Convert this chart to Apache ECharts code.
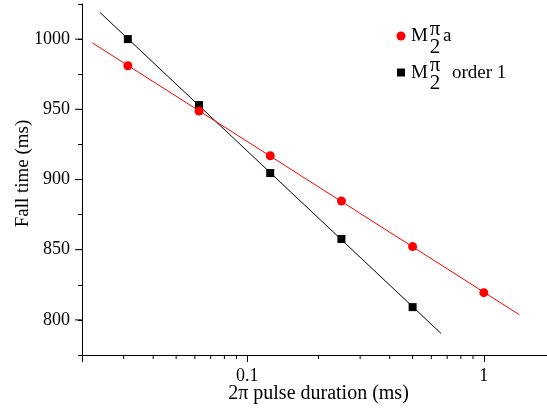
<!DOCTYPE html>
<html>
<head>
<meta charset="utf-8">
<script src="https://cdn.jsdelivr.net/npm/echarts@6/dist/echarts.min.js"></script>
<style>
  html, body { margin: 0; padding: 0; background: #fff; }
  #chart { width: 547px; height: 415px; }
</style>
</head>
<body>
<div id="chart"></div>
<script>
// Pulse durations (ms) and measured fall times (ms)
const durations = [0.03125, 0.0625, 0.125, 0.25, 0.5, 1];
const fallTimeA = [981.0, 948.8, 916.9, 884.7, 852.2, 819.4];
const fallTimeOrder1 = [1000.0, 953.0, 904.6, 857.6, 809.1];

// Range over which each straight-line fit (in log duration) is drawn
const fitRangeA = [0.0221, 1.415];
const fitRangeOrder1 = [0.0238, 0.66];

// Axis ranges and ticks
const xRange = [0.02, 2];
const yRange = [775, 1025];
const xTickLabels = [0.1, 1];
const xMinorTicks = [0.03, 0.04, 0.05, 0.06, 0.07, 0.08, 0.09, 0.2, 0.3, 0.4, 0.5, 0.6, 0.7, 0.8, 0.9];
const yMajorTicks = [800, 850, 900, 950, 1000];

const FONT = 'Liberation Serif';

// Least-squares line of y against log10(x), evaluated at the range ends
function fitLine(xs, ys, range) {
  const n = ys.length;
  const lx = xs.slice(0, n).map(v => Math.log10(v));
  const mx = lx.reduce((a, b) => a + b, 0) / n;
  const my = ys.reduce((a, b) => a + b, 0) / n;
  let sxy = 0, sxx = 0;
  for (let i = 0; i < n; i++) {
    sxy += (lx[i] - mx) * (ys[i] - my);
    sxx += (lx[i] - mx) * (lx[i] - mx);
  }
  const slope = sxy / sxx;
  const icpt = my - slope * mx;
  return range.map(x => [x, icpt + slope * Math.log10(x)]);
}

const chart = echarts.init(document.getElementById('chart'));

// Extra tick marks: minor ticks on the x axis, longer major ticks on y
const tickData = xMinorTicks.map(v => [v, yRange[0], 0])
  .concat(yMajorTicks.map(v => [xRange[0], v, 1]));

function legendText(x, y, text, align, size) {
  return {
    type: 'text', x: x, y: y,
    style: {
      text: text, font: (size || 19) + 'px ' + FONT, fill: '#000',
      align: align || 'left', verticalAlign: 'middle'
    }
  };
}

const option = {
  animation: false,
  backgroundColor: '#fff',
  textStyle: { fontFamily: FONT },
  grid: { left: 82, top: 4, width: 473, height: 351, outerBoundsMode: 'none', containLabel: false },
  xAxis: {
    type: 'log',
    logBase: 10,
    min: xRange[0],
    max: xRange[1],
    name: '2\u03c0 pulse duration (ms)',
    nameLocation: 'middle',
    nameGap: 29,
    nameMoveOverlap: false,
    nameTextStyle: { fontFamily: FONT, fontSize: 20, color: '#000' },
    axisLine: { lineStyle: { color: '#000', width: 1 } },
    axisTick: { length: 7, lineStyle: { color: '#000' } },
    axisLabel: {
      fontFamily: FONT, fontSize: 18, color: '#000', margin: 12,
      formatter: v => xTickLabels.some(t => Math.abs(t - v) < 1e-9) ? String(v) : ''
    },
    splitLine: { show: false }
  },
  yAxis: {
    type: 'value',
    min: yRange[0],
    max: yRange[1],
    interval: 25,
    name: 'Fall time (ms)',
    nameLocation: 'middle',
    nameGap: 49,
    nameMoveOverlap: false,
    nameTextStyle: { fontFamily: FONT, fontSize: 19, color: '#000', padding: [0, 0, 0, 12] },
    axisLine: { show: true, lineStyle: { color: '#000', width: 1 } },
    axisTick: { show: true, length: 4, lineStyle: { color: '#000' } },
    axisLabel: {
      fontFamily: FONT, fontSize: 18, color: '#000', margin: 12,
      formatter: v => (v % 50 === 0 ? String(v) : '')
    },
    splitLine: { show: false }
  },
  series: [
    {
      type: 'custom',
      silent: true,
      clip: false,
      data: tickData,
      renderItem: (params, api) => {
        const p = api.coord([api.value(0), api.value(1)]);
        const major = api.value(2) === 1;
        return {
          type: 'line',
          shape: major
            ? { x1: p[0], y1: p[1], x2: p[0] - 7, y2: p[1] }
            : { x1: p[0], y1: p[1], x2: p[0], y2: p[1] + 4 },
          style: { stroke: '#000', lineWidth: 1 }
        };
      }
    },
    {
      name: 'fit order 1',
      type: 'line',
      data: fitLine(durations, fallTimeOrder1, fitRangeOrder1),
      showSymbol: false,
      lineStyle: { color: '#000', width: 1 },
      z: 2
    },
    {
      name: 'fit a',
      type: 'line',
      data: fitLine(durations, fallTimeA, fitRangeA),
      showSymbol: false,
      lineStyle: { color: '#ff0000', width: 1 },
      z: 2
    },
    {
      name: 'M order 1',
      type: 'scatter',
      data: fallTimeOrder1.map((v, i) => [durations[i], v]),
      symbol: 'rect',
      symbolSize: 8,
      itemStyle: { color: '#000', opacity: 1 },
      z: 3
    },
    {
      name: 'M a',
      type: 'scatter',
      data: fallTimeA.map((v, i) => [durations[i], v]),
      symbol: 'circle',
      symbolSize: 9,
      itemStyle: { color: '#ff0000', opacity: 1 },
      z: 4
    }
  ],
  graphic: [
    // legend entry 1
    { type: 'circle', shape: { cx: 401, cy: 36, r: 4.5 }, style: { fill: '#ff0000' } },
    legendText(411, 36, 'M'),
    legendText(435, 29, '\u03c0', 'center', 21),
    legendText(435, 47, '2', 'center', 21),
    legendText(443, 36, 'a'),
    // legend entry 2
    { type: 'rect', shape: { x: 397, y: 68.5, width: 8, height: 8 }, style: { fill: '#000' } },
    legendText(411, 72.7, 'M'),
    legendText(435, 65.5, '\u03c0', 'center', 21),
    legendText(435, 83.5, '2', 'center', 21),
    legendText(452, 72.7, 'order 1')
  ]
};

chart.setOption(option);
</script>
</body>
</html>
